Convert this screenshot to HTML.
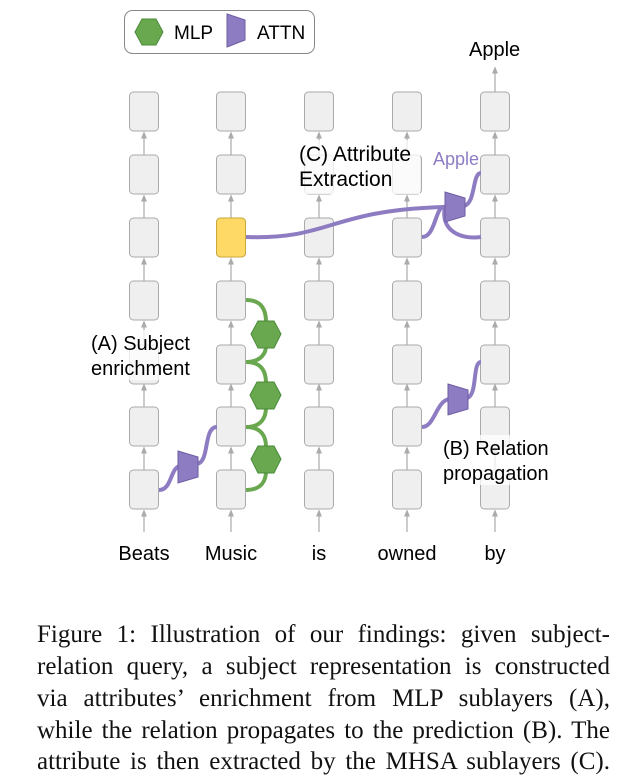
<!DOCTYPE html>
<html><head><meta charset="utf-8"><style>
body{margin:0;width:631px;height:776px;background:#fff;position:relative;overflow:hidden}
svg{position:absolute;left:0;top:0}
.cap{position:absolute;left:37px;width:573px;font-family:"Liberation Serif",serif;font-size:25px;color:#111;text-align:justify;text-align-last:justify;white-space:nowrap;line-height:26px;word-spacing:-1px}
</style></head><body>
<svg width="631" height="600" viewBox="0 0 631 600" font-family="Liberation Sans, sans-serif">
<defs>
<marker id="a" markerWidth="6" markerHeight="6" refX="3" refY="3" orient="auto"><path d="M0,0.5 L6,3 L0,5.5z" fill="#aaa"/></marker>
<g id="col">
<g stroke="#aaa" stroke-width="1.2" marker-end="url(#a)">
<line x1="0" y1="532" x2="0" y2="513"/>
<line x1="0" y1="470" x2="0" y2="450"/>
<line x1="0" y1="407" x2="0" y2="387"/>
<line x1="0" y1="345" x2="0" y2="324"/>
<line x1="0" y1="281" x2="0" y2="261"/>
<line x1="0" y1="218" x2="0" y2="198"/>
<line x1="0" y1="155" x2="0" y2="135"/>
</g>
<g fill="#efefef" stroke="#aaa">
<rect x="-14.5" y="92" width="29" height="39" rx="4"/>
<rect x="-14.5" y="155" width="29" height="39" rx="4"/>
<rect x="-14.5" y="218" width="29" height="39" rx="4"/>
<rect x="-14.5" y="281" width="29" height="39" rx="4"/>
<rect x="-14.5" y="345" width="29" height="39" rx="4"/>
<rect x="-14.5" y="407" width="29" height="39" rx="4"/>
<rect x="-14.5" y="470" width="29" height="39" rx="4"/>
</g>
</g>
</defs>
<rect x="124.5" y="10.5" width="190" height="43" rx="8" fill="#fff" stroke="#888"/>
<polygon points="135,32 142,19 156,19 163,32 156,45 142,45" fill="#6aa84f" stroke="#4a8a3a"/>
<text x="174" y="39" font-size="19">MLP</text>
<polygon points="227,14 245,20 245,40 227,47" fill="#8e7cc3" stroke="#6e5ca3"/>
<text x="257" y="39" font-size="19">ATTN</text>
<text x="469" y="56" font-size="20">Apple</text>
<line x1="495" y1="92" x2="495" y2="70" stroke="#aaa" stroke-width="1.2" marker-end="url(#a)"/>
<use href="#col" x="144"/>
<use href="#col" x="231"/>
<use href="#col" x="319"/>
<use href="#col" x="407"/>
<use href="#col" x="495"/>
<rect x="216.5" y="218" width="29" height="39" rx="4" fill="#ffd966" stroke="#c9a93a"/>
<g fill="none" stroke="#6aa84f" stroke-width="4">
<path d="M246,300 C262,300 266,310 266,322"/>
<path d="M246,362 C262,362 266,352 266,346"/>
<path d="M246,362 C262,362 266,372 266,383"/>
<path d="M246,427 C262,427 266,417 266,407"/>
<path d="M246,427 C262,427 266,437 266,447"/>
<path d="M246,490 C262,490 266,480 266,471"/>
</g>
<g fill="#6aa84f" stroke="#4a8a3a">
<polygon points="251,334 258,321 274,321 281,334 274,348 258,348"/>
<polygon points="250,395 257,382 274,382 281,395 274,409 257,409"/>
<polygon points="251,459 258,446 274,446 281,459 274,473 258,473"/>
</g>
<g fill="none" stroke="#8e7cc3" stroke-width="4">
<path d="M159,490 C172,490 170,468 180,466"/>
<path d="M197,464 C210,462 203,427 217,427"/>
<path d="M422,427 C435,427 436,400 450,399"/>
<path d="M467,398 C478,395 472,362 481,362"/>
<path d="M246,237 C330,240 330,210 445,207"/>
<path d="M422,237 C436,237 435,205 445,207"/>
<path d="M481,237 C460,240 440,230 445,207"/>
<path d="M464,206 C476,203 472,173 481,173"/>
</g>
<g fill="#8e7cc3" stroke="#6e5ca3">
<polygon points="178,451 198,457 198,477 178,483"/>
<polygon points="448,384 468,390 468,409 448,415"/>
<polygon points="445,192 465,198 465,216 445,222"/>
</g>
<rect x="298" y="140" width="122" height="54" fill="#fff" opacity="0.75"/>
<text x="299" y="161" font-size="21">(C) Attribute</text>
<text x="299" y="186" font-size="21">Extraction</text>
<text x="433" y="165" font-size="18" fill="#8e7cc3">Apple</text>
<rect x="90" y="330" width="112" height="50" fill="#fff" opacity="0.75"/>
<text x="91" y="350" font-size="20">(A) Subject</text>
<text x="91" y="375" font-size="20">enrichment</text>
<rect x="442" y="435" width="115" height="50" fill="#fff" opacity="0.75"/>
<text x="443" y="455" font-size="20">(B) Relation</text>
<text x="443" y="480" font-size="20">propagation</text>
<g font-size="20" text-anchor="middle">
<text x="144" y="560">Beats</text><text x="231" y="560">Music</text><text x="319" y="560">is</text><text x="407" y="560">owned</text><text x="495" y="560">by</text>
</g>
</svg>
<div class="cap" style="top:622px">Figure 1: Illustration of our findings: given subject-</div>
<div class="cap" style="top:654px">relation query, a subject representation is constructed</div>
<div class="cap" style="top:686px">via attributes’ enrichment from MLP sublayers (A),</div>
<div class="cap" style="top:718px">while the relation propagates to the prediction (B). The</div>
<div class="cap" style="top:749px">attribute is then extracted by the MHSA sublayers (C).</div>
</body></html>
